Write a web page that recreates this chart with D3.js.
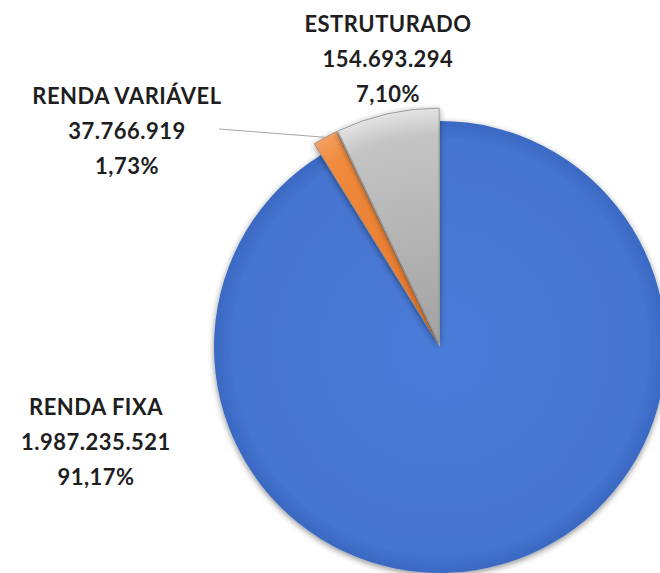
<!DOCTYPE html>
<meta charset="utf-8">
<style type="text/css">

body {
    margin: 0;
    background: #fff;
}

.label {
    font-family: Lato, "Open Sans", sans-serif;
    font-weight: bold;
    font-size: 22px;
    letter-spacing: 0.5px;
    fill: #1e1e1e;
    text-anchor: middle;
}

.leader {
    stroke: #a6a6a6;
    stroke-width: 1;
    fill: none;
}

</style>
<body>
</body>

<script src="https://d3js.org/d3.v7.min.js"></script>
<script>

var categories = ["RENDA FIXA", "RENDA VARIÁVEL", "ESTRUTURADO"];
var values = [1987235521, 37766919, 154693294];
var colors = ["#4676d2", "#ed7d31", "#b4b4b4"];

var width = 660
  , height = 573;

var cx = 440
  , cy = 347
  , radius = 226;

var locale = d3.formatLocale({decimal: ",", thousands: ".", grouping: [3], currency: ["R$", ""]});
var fmtNum = locale.format(",d")
  , fmtPct = locale.format(".2%");

var total = d3.sum(values);

var dataset = categories.map(function(c, i) {
    return {name: c, value: values[i], color: colors[i]};
});

var pie = d3.pie()
    .sort(null)
    .value(function(d) { return d.value; });

var arcs = pie(dataset);

var svg = d3.select("body").append("svg")
    .attr("width", width)
    .attr("height", height);

var defs = svg.append("defs");

var shadow = defs.append("filter")
    .attr("id", "shadow")
    .attr("x", "-10%").attr("y", "-10%")
    .attr("width", "120%").attr("height", "120%");
shadow.append("feGaussianBlur").attr("in", "SourceAlpha").attr("stdDeviation", 3);
shadow.append("feOffset").attr("dx", 0).attr("dy", 2).attr("result", "blur");
shadow.append("feComponentTransfer").append("feFuncA").attr("type", "linear").attr("slope", 0.45);
var merge = shadow.append("feMerge");
merge.append("feMergeNode");
merge.append("feMergeNode").attr("in", "SourceGraphic");

// radial shading, darker toward the rim
function shade(id, inner, mid, rim) {
    var g = defs.append("radialGradient")
        .attr("id", id)
        .attr("gradientUnits", "userSpaceOnUse")
        .attr("cx", 0).attr("cy", 0).attr("r", radius + 10);
    g.append("stop").attr("offset", "0%").attr("stop-color", inner);
    g.append("stop").attr("offset", "88%").attr("stop-color", mid);
    g.append("stop").attr("offset", "100%").attr("stop-color", rim);
}

shade("g0", "#4a7bd8", "#4574cf", "#3462bb");
shade("g1", "#e6772a", "#f08a3c", "#f4a060");
shade("g2", "#a2a2a2", "#c4c4c4", "#e4e4e4");

var bigArc = d3.arc().innerRadius(0).outerRadius(radius);
var smallArc = d3.arc().innerRadius(0).outerRadius(radius + 9);

var explode = 4;

var chart = svg.append("g")
    .attr("transform", "translate(" + cx + "," + cy + ")");

chart.selectAll(".slice")
    .data(arcs)
  .enter().append("path")
    .attr("class", "slice")
    .attr("transform", function(d, i) {
        if (i === 0) return null;
        var a = (d.startAngle + d.endAngle) / 2;
        return "translate(" + (Math.sin(a) * explode) + "," + (-Math.cos(a) * explode) + ")";
    })
    .attr("d", function(d, i) { return i === 0 ? bigArc(d) : smallArc(d); })
    .attr("fill", function(d, i) { return "url(#g" + i + ")"; })
    .attr("stroke", function(d, i) { return i === 0 ? "none" : "#8a8a8a"; })
    .attr("stroke-width", 0.8)
    .attr("filter", "url(#shadow)");

// label blocks
var labelPos = [
    {x: 96, y: 415},
    {x: 127, y: 104},
    {x: 388, y: 32}
];
var lineGap = 35;

var labels = svg.selectAll(".labelblock")
    .data(arcs)
  .enter().append("text")
    .attr("class", "label")
    .attr("x", function(d, i) { return labelPos[i].x; })
    .attr("y", function(d, i) { return labelPos[i].y; });

labels.each(function(d, i) {
    var t = d3.select(this);
    var lines = [d.data.name, fmtNum(d.data.value), fmtPct(d.data.value / total)];
    lines.forEach(function(s, j) {
        t.append("tspan")
            .attr("x", labelPos[i].x)
            .attr("dy", j === 0 ? 0 : lineGap)
            .text(s);
    });
});

// leader line for the small orange slice
var rv = arcs[1];
var ma = (rv.startAngle + rv.endAngle) / 2;
var tip = [cx + Math.sin(ma) * (radius + 9 + explode), cy - Math.cos(ma) * (radius + 9 + explode)];

svg.append("path")
    .attr("class", "leader")
    .attr("d", d3.line()([[labelPos[1].x + 92, labelPos[1].y + 25], tip]));

</script>
